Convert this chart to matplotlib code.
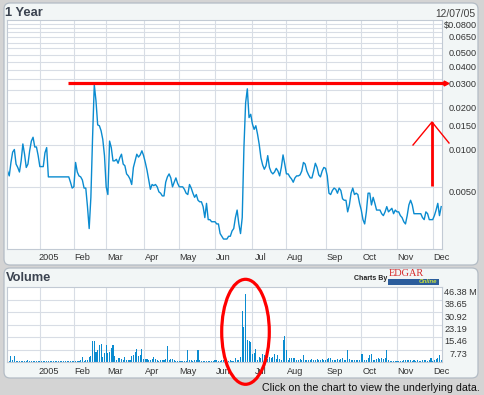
import matplotlib
matplotlib.use("Agg")
import matplotlib.pyplot as plt
from matplotlib.patches import FancyBboxPatch, Ellipse, Rectangle
from matplotlib.lines import Line2D
from matplotlib.ticker import NullLocator
from matplotlib.transforms import ScaledTranslation, blended_transform_factory, IdentityTransform

# ---- data (one value per trading day, 12/06/04 .. 12/07/05) ----
price = [
    0.0065, 0.0060, 0.0075, 0.0089, 0.0093, 0.0073, 0.0069, 0.0064, 0.0077, 0.0102,
    0.0086, 0.0069, 0.0073, 0.0091, 0.0107, 0.0114, 0.0097, 0.0097, 0.0084, 0.0070,
    0.0070, 0.0070, 0.0088, 0.0096,
    0.0059, 0.0059, 0.0059, 0.0059, 0.0059, 0.0059, 0.0059, 0.0059, 0.0059, 0.0059,
    0.0059, 0.0059, 0.0059,
    0.0054, 0.0049, 0.0050, 0.0075, 0.0064, 0.0060, 0.0059, 0.0056, 0.0049,
    0.0049, 0.0036, 0.0025, 0.0042, 0.0114, 0.0273, 0.0209, 0.0140, 0.0138, 0.0127,
    0.0110, 0.0084, 0.0050, 0.0044, 0.0107, 0.0096, 0.0077, 0.0077, 0.0079, 0.0074,
    0.0081, 0.0086, 0.0073, 0.0071, 0.0062, 0.0060, 0.0057, 0.0052, 0.0069, 0.0077,
    0.0086, 0.0082, 0.0085, 0.0091, 0.0084, 0.0075, 0.0066, 0.0056, 0.0048, 0.0052,
    0.0051, 0.0052, 0.0050, 0.0046,
    0.0045, 0.0043, 0.0043, 0.0054, 0.0059, 0.0062, 0.0058, 0.0050, 0.0054, 0.0058,
    0.0053, 0.0050, 0.0050, 0.0050, 0.0048, 0.0045, 0.0044, 0.0052, 0.0049, 0.0045,
    0.0042, 0.0044, 0.0040, 0.0039, 0.0039, 0.0036, 0.0030, 0.0038, 0.0029, 0.0029,
    0.0028, 0.0028, 0.0028, 0.0027, 0.0027, 0.0023, 0.0022, 0.0021, 0.0021, 0.0021,
    0.0022, 0.0022, 0.0024, 0.0025,
    0.0030, 0.0034, 0.0027, 0.0023, 0.0030, 0.0096, 0.0202, 0.0255, 0.0158, 0.0167,
    0.0142, 0.0130, 0.0138, 0.0120, 0.0101, 0.0081, 0.0072, 0.0067, 0.0071, 0.0084,
    0.0069, 0.0064, 0.0062, 0.0064, 0.0068, 0.0065, 0.0060, 0.0069, 0.0085, 0.0073,
    0.0062, 0.0062, 0.0059, 0.0057, 0.0054, 0.0058, 0.0060, 0.0060, 0.0061, 0.0065,
    0.0075, 0.0073, 0.0065, 0.0061,
    0.0058, 0.0058, 0.0065, 0.0074, 0.0069, 0.0061, 0.0059, 0.0065, 0.0069, 0.0068,
    0.0060, 0.0045, 0.0044, 0.0047, 0.0049, 0.0048, 0.0045, 0.0049, 0.0047, 0.0041,
    0.0040, 0.0040, 0.0033, 0.0037, 0.0045, 0.0049, 0.0044, 0.0045, 0.0044, 0.0038,
    0.0034, 0.0029, 0.0027, 0.0033, 0.0045, 0.0045, 0.0037, 0.0042, 0.0038, 0.0034,
    0.0034, 0.0034, 0.0032, 0.0031,
    0.0033, 0.0036, 0.0033, 0.0034, 0.0035, 0.0032, 0.0034, 0.0033, 0.0033, 0.0031,
    0.0030, 0.0028, 0.0027, 0.0031, 0.0037, 0.0040, 0.0037, 0.0032, 0.0032, 0.0032,
    0.0032, 0.0032, 0.0030, 0.0029, 0.0033, 0.0032, 0.0029, 0.0029, 0.0029, 0.0031,
    0.0034, 0.0038, 0.0031, 0.0036,
]

# volume in millions
volume = [
    1.4, 0.6, 3.5, 1.4, 3.5, 0.6,
    0.6, 0.8, 0.6, 0.6, 0.8, 0.6, 1.0, 0.8, 0.6, 0.6,
    0.6, 0.8, 0.6, 0.6, 0.6, 0.6, 0.6, 0.6, 0.6, 0.6,
    0.6, 0.6, 0.6, 0.6, 0.6, 0.6, 0.6, 0.6, 0.6, 0.6,
    0.6, 0.6, 0.6, 0.6, 0.6, 0.6, 0.8, 1.0,
    3.1, 0.6, 1.0, 1.4, 3.1, 3.5, 12.8, 12.8, 6.2, 7.6,
    10.3, 11.3, 3.1, 5.6, 10.3, 5.6, 6.2, 8.9, 10.7, 3.5,
    1.4, 2.3, 2.7, 2.0, 1.4, 3.1, 1.0, 1.0, 1.0, 3.5,
    4.1, 6.0, 8.2, 3.5, 4.1, 8.2, 1.9, 2.1, 1.9, 1.4,
    1.0, 2.1, 3.1, 1.9, 1.0, 0.6, 1.0, 1.4, 1.0, 1.9,
    9.7, 1.4, 2.1, 1.9, 1.0,
    0.6, 0.6, 0.6, 0.8, 0.6, 0.6, 0.6,
    7.6, 1.0, 1.0, 0.6, 1.0, 1.4, 7.2, 1.0,
    0.6, 0.6, 0.6, 0.6, 0.6, 0.6, 0.6, 0.6,
    1.0, 1.4, 0.6, 0.6, 1.0, 1.4, 1.9, 1.0, 0.6, 1.4,
    0.6, 0.6, 2.5, 1.4, 1.4, 3.1, 31.5, 21.6, 42.0, 13.8,
    12.8, 12.4, 5.2, 5.6, 8.0, 1.4, 3.1, 2.7, 5.2, 4.1,
    1.4, 2.1, 3.1, 2.7, 3.1, 5.2, 1.9, 4.1, 1.9, 1.4,
    13.4, 15.9, 7.2, 1.4, 2.7, 2.7, 2.7, 2.7, 1.4, 1.0,
    1.9, 1.0, 4.1, 1.0, 1.0, 1.4, 1.0, 1.9, 1.0, 1.4,
    1.9, 1.0, 1.0, 1.9, 1.4, 1.0, 1.9, 2.7, 2.7, 1.0,
    1.0, 1.4, 1.9, 1.0, 1.9, 2.7, 1.0, 1.4, 7.6, 1.9,
    1.4, 1.0, 1.0, 1.4, 1.0, 1.4, 5.2, 5.2, 1.4, 1.0,
    2.7, 4.1, 5.2, 1.4, 1.0, 1.9, 2.7, 1.9, 2.3, 1.9,
    2.7, 7.2, 1.0,
    0.6, 0.6, 0.6, 0.6, 0.6, 0.6, 0.6, 0.6,
    1.0, 1.4, 1.4, 1.0, 1.4, 0.6, 1.0, 0.6, 1.0, 0.6,
    0.6, 1.0, 1.0, 1.4, 0.6, 1.0, 2.3, 0.6, 1.0, 2.1,
    2.7, 4.1, 1.0,
]

month_labels = ['2005', 'Feb', 'Mar', 'Apr', 'May', 'Jun', 'Jul', 'Aug', 'Sep', 'Oct', 'Nov', 'Dec']
month_start = [19, 39, 58, 80, 101, 122, 144, 164, 187, 208, 229, 250]

price_grid = [0.005 * k for k in range(1, 16)]
price_ticks = [0.08, 0.065, 0.05, 0.04, 0.03, 0.02, 0.015, 0.01, 0.005]
price_tick_labels = ['$0.0800', '0.0650', '0.0500', '0.0400', '0.0300', '0.0200', '0.0150', '0.0100', '0.0050']

vol_ticks = [46.38, 38.65, 30.92, 23.19, 15.46, 7.73]
vol_tick_labels = ['46.38 M', '38.65', '30.92', '23.19', '15.46', '7.73']

assert len(price) == len(volume), (len(price), len(volume))
days = list(range(len(price)))

# ---- figure ----
W, H = 484, 395
fig = plt.figure(figsize=(W / 100, H / 100), dpi=100)
fig.patch.set_facecolor('#d4d4d4')

BLUE = '#0a8bd0'
GRID = '#d8dde5'
EDGE = '#c2cad4'
TXT = '#333333'
FONT = 'Liberation Sans'


def px_rect(x0, y0, x1, y1):
    return [x0 / W, 1 - y1 / H, (x1 - x0) / W, (y1 - y0) / H]


def shift(dx, dy):
    return ScaledTranslation(dx / 100, -dy / 100, fig.dpi_scale_trans)


# panel backgrounds (pixel coordinates)
for y0, y1 in [(3, 265), (268, 378)]:
    panel = FancyBboxPatch((4, H - y1), 474, y1 - y0,
                           boxstyle='round,pad=0,rounding_size=6',
                           transform=IdentityTransform(),
                           facecolor='#f2f6f6', edgecolor='#b3bcc5', lw=0.9, zorder=-5)
    fig.add_artist(panel)

ax1 = fig.add_axes(px_rect(6.7, 20, 441.7, 249))
ax2 = fig.add_axes(px_rect(6.7, 287, 441.7, 362))

for ax in (ax1, ax2):
    ax.set_facecolor('white')
    ax.set_xlim(-0.5, 255.3)
    ax.set_xticks(month_start)
    ax.tick_params(length=0, labelleft=False, labelbottom=False)
    ax.grid(True, color=GRID, lw=0.8)
    ax.set_axisbelow(True)
    for s in ax.spines.values():
        s.set_color(EDGE)
        s.set_linewidth(0.8)
    tr = blended_transform_factory(ax.transData, ax.transAxes)
    dy = 8.3 if ax is ax1 else 9.7
    for m, lab in zip(month_start, month_labels):
        ax.text(m, 0, lab, transform=tr + shift(8.7, dy), ha='center', va='center',
                fontsize=6.6, family=FONT, color=TXT)

# price panel
ax1.plot(days, price, color=BLUE, lw=1.0)
ax1.set_yscale('log')
ax1.set_ylim(0.00178, 0.08)
ax1.yaxis.set_minor_locator(NullLocator())
ax1.set_yticks(price_grid)
ax1.tick_params(which='both', length=0, labelleft=False, labelbottom=False)
tr1 = blended_transform_factory(ax1.transAxes, ax1.transData)
for v, lab in zip(price_ticks, price_tick_labels):
    ax1.text(1, v, lab, transform=tr1 + shift(35.3, 5.5), ha='right', va='center',
             fontsize=6.6, family=FONT, color=TXT)

# volume panel
ax2.bar(days, volume, width=0.62, color=BLUE, lw=0, antialiased=False)
ax2.set_ylim(0, 46.38)
ax2.set_yticks(vol_ticks[1:])
tr2 = blended_transform_factory(ax2.transAxes, ax2.transData)
for v, lab in zip(vol_ticks, vol_tick_labels):
    if lab.endswith('M'):
        ax2.text(1, v, lab, transform=tr2 + shift(2.3, 5.5), ha='left', va='center',
                 fontsize=6.6, family=FONT, color=TXT)
    else:
        ax2.text(1, v, lab, transform=tr2 + shift(25.3, 5.0), ha='right', va='center',
                 fontsize=6.6, family=FONT, color=TXT)

# titles and captions
fig.text(5 / W, 1 - 12.7 / H, '1 Year', fontsize=9.3, fontweight='bold', family=FONT,
         color='#3b4350', ha='left', va='center')
fig.text(475 / W, 1 - 14 / H, '12/07/05', fontsize=7.4, family=FONT, color='#404040',
         ha='right', va='center')
fig.text(6 / W, 1 - 278 / H, 'Volume', fontsize=9.3, fontweight='bold', family=FONT,
         color='#3b4350', ha='left', va='center')
fig.text(480 / W, 1 - 388 / H, 'Click on the chart to view the underlying data.',
         fontsize=7.7, family=FONT, color='#111111', ha='right', va='center')

# "Charts By EDGAR Online" badge
fig.text(387 / W, 1 - 278 / H, 'Charts By', fontsize=5.0, fontweight='bold', family=FONT,
         color='#222222', ha='right', va='center')
fig.text(389 / W, 1 - 273.5 / H, 'EDGAR', fontsize=7.4, family='Liberation Serif',
         color='#d62a2a', ha='left', va='center')
fig.add_artist(Rectangle((388, H - 284.5), 51, 6, transform=IdentityTransform(),
                         facecolor='#2b5d9c', edgecolor='none', zorder=2))
fig.text(437 / W, 1 - 281.8 / H, 'Online', fontsize=4.3, fontweight='bold', style='italic',
         family=FONT, color='#c9e23c', ha='right', va='center', zorder=3)

# red annotations (pixel coordinates)
RED = '#ff0000'
fig.add_artist(Line2D([68, 446], [H - 82.7, H - 82.7], transform=IdentityTransform(),
                      color=RED, lw=2.3, solid_capstyle='butt', zorder=10))
fig.add_artist(Line2D([446], [H - 82.7], transform=IdentityTransform(), marker='>',
                      markersize=3.5, color=RED, lw=0, zorder=10))
fig.add_artist(Line2D([432, 432], [H - 186, H - 122], transform=IdentityTransform(),
                      color=RED, lw=2.0, solid_capstyle='butt', zorder=10))
fig.add_artist(Line2D([413, 432, 449], [H - 145, H - 122, H - 143], transform=IdentityTransform(),
                      color=RED, lw=1.0, zorder=10))
fig.add_artist(Ellipse((245.5, H - 331.8), 47.6, 105, transform=IdentityTransform(),
                       fill=False, edgecolor=RED, lw=2.3, zorder=10))

fig.savefig('out.png', dpi=100, facecolor=fig.get_facecolor())
